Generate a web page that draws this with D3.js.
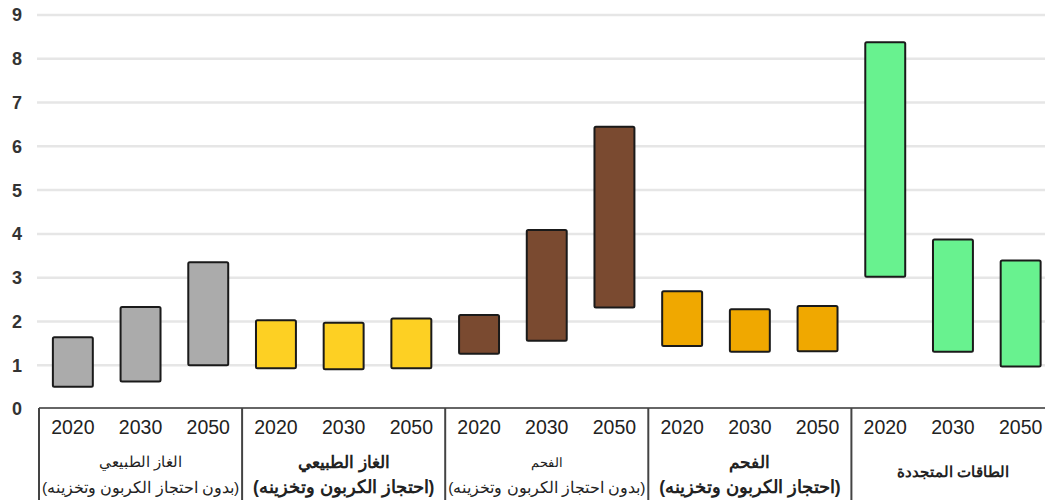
<!DOCTYPE html>
<html><head><meta charset="utf-8">
<script src="https://cdn.jsdelivr.net/npm/d3@7"></script>
<style>body{margin:0;background:#fff}svg{display:block}</style>
</head><body>
<svg id="c" width="1045" height="502"></svg>
<script>
const years = ["2020", "2030", "2050"];
const groupLine1 = ["الغاز الطبيعي", "الغاز الطبيعي", "الفحم", "الفحم", "الطاقات المتجددة"];
const groupLine2 = ["(بدون احتجاز الكربون وتخزينه)", "(احتجاز الكربون وتخزينه)", "(بدون احتجاز الكربون وتخزينه)", "(احتجاز الكربون وتخزينه)", ""];
const yTicks = [0, 1, 2, 3, 4, 5, 6, 7, 8, 9];
const gasNoCcsLow = [0.51, 0.63, 1.0];
const gasNoCcsHigh = [1.64, 2.33, 3.35];
const gasCcsLow = [0.93, 0.91, 0.93];
const gasCcsHigh = [2.03, 1.97, 2.07];
const coalNoCcsLow = [1.26, 1.56, 2.32];
const coalNoCcsHigh = [2.15, 4.09, 6.45];
const coalCcsLow = [1.44, 1.31, 1.32];
const coalCcsHigh = [2.69, 2.28, 2.35];
const renewLow = [3.02, 1.31, 0.97];
const renewHigh = [8.38, 3.87, 3.39];
const colors = ["#ababab", "#fdd023", "#7a4a30", "#f0a800", "#68f28f"];

const lows = [gasNoCcsLow, gasCcsLow, coalNoCcsLow, coalCcsLow, renewLow];
const highs = [gasNoCcsHigh, gasCcsHigh, coalNoCcsHigh, coalCcsHigh, renewHigh];
const rows = [];
lows.forEach((arr, g) => arr.forEach((v, i) => rows.push({g, i, key: g + "-" + i, lo: v, hi: highs[g][i], year: years[i]})));

const svg = d3.select("#c");
const x0 = 39, x1 = 1054.5, yBase = 408;
const x = d3.scaleBand().domain(rows.map(d => d.key)).range([x0, x1]).paddingInner(0.41).paddingOuter(0.205);
const y = d3.scaleLinear().domain([0, 9]).range([409, 15]);
const step = x.step();

// gridlines
svg.append("g").selectAll("line").data(yTicks.filter(t => t > 0)).join("line")
  .attr("x1", 37).attr("x2", 1045).attr("y1", d => y(d)).attr("y2", d => y(d))
  .attr("stroke", "#e6e6e6").attr("stroke-width", 2.5);

// y labels
svg.append("g").selectAll("text").data(yTicks).join("text")
  .attr("x", 22).attr("y", d => y(d)).attr("dy", "0.36em").attr("text-anchor", "end")
  .attr("font-family", "Liberation Sans, Arial, sans-serif").attr("font-size", 18).attr("font-weight", "bold")
  .attr("fill", "#333").text(d => d);

// bars
svg.append("g").selectAll("rect").data(rows).join("rect")
  .attr("x", d => x(d.key)).attr("width", x.bandwidth())
  .attr("y", d => y(d.hi)).attr("height", d => y(d.lo) - y(d.hi))
  .attr("rx", 1.5).attr("fill", d => colors[d.g]).attr("stroke", "#1a1a1a").attr("stroke-width", 2);

// bottom axis
svg.append("line").attr("x1", x0).attr("x2", 1045).attr("y1", yBase).attr("y2", yBase)
  .attr("stroke", "#666").attr("stroke-width", 2);
svg.append("g").selectAll("line").data(d3.range(5)).join("line")
  .attr("x1", g => x0 + g * step * 3).attr("x2", g => x0 + g * step * 3)
  .attr("y1", yBase).attr("y2", 500).attr("stroke", "#444").attr("stroke-width", 2);

// year labels
svg.append("g").selectAll("text").data(rows).join("text")
  .attr("x", d => x(d.key) + x.bandwidth() / 2).attr("y", 427).attr("dy", "0.36em")
  .attr("text-anchor", "middle").attr("font-family", "Liberation Sans, Arial, sans-serif")
  .attr("font-size", 19.5).attr("fill", "#222").text(d => d.year);

// group labels
const l1Size = [15, 17, 13, 16.5, 15];
const l1Bold = [false, true, false, true, true];
const l2Size = [15.5, 17.5, 15.5, 17.5, 0];
const l2Bold = [false, true, false, true, false];
const gc = g => x0 + (g + 0.5) * step * 3;
const gl = svg.append("g").attr("font-family", "Liberation Sans, Arial, sans-serif").attr("fill", "#222").attr("text-anchor", "middle");
groupLine1.forEach((t, g) => {
  gl.append("text").attr("x", gc(g)).attr("y", g === 4 ? 472 : 462).attr("dy", "0.36em")
    .attr("font-size", l1Size[g]).attr("font-weight", l1Bold[g] ? "bold" : "normal").attr("direction", "rtl").attr("text-anchor", "middle").text(t);
  if (groupLine2[g]) gl.append("text").attr("x", gc(g)).attr("y", 487).attr("dy", "0.36em")
    .attr("font-size", l2Size[g]).attr("font-weight", l2Bold[g] ? "bold" : "normal").attr("direction", "rtl").attr("text-anchor", "middle").text(groupLine2[g]);
});
</script>
</body></html>
